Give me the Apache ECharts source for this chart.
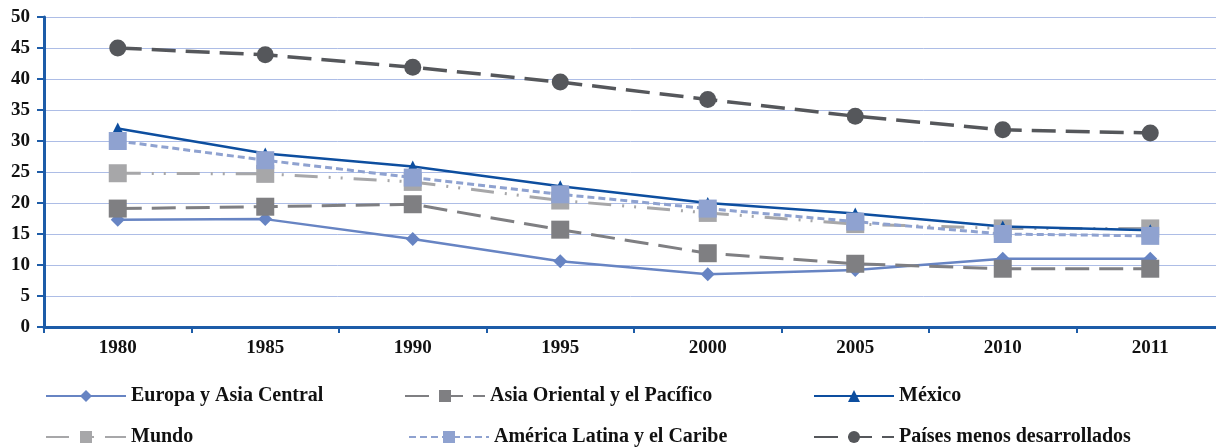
<!DOCTYPE html>
<html>
<head>
<meta charset="utf-8">
<script src="https://cdn.jsdelivr.net/npm/echarts@6/dist/echarts.min.js"></script>
<style>
  html, body { margin: 0; padding: 0; background: #fff; }
  #chart { width: 1216px; height: 447px; }
</style>
</head>
<body>
<div id="chart"></div>
<script>
// datos
const years = ['1980', '1985', '1990', '1995', '2000', '2005', '2010', '2011'];
const europa = [17.3, 17.4, 14.2, 10.6, 8.5, 9.2, 11.0, 11.0];
const asiaOriental = [19.1, 19.4, 19.8, 15.7, 11.9, 10.2, 9.4, 9.4];
const mexico = [32.0, 28.0, 25.9, 22.7, 20.0, 18.3, 16.2, 15.6];
const mundo = [24.8, 24.7, 23.4, 20.4, 18.4, 16.6, 15.9, 15.9];
const americaLatina = [30.0, 26.9, 24.1, 21.4, 19.1, 17.0, 15.0, 14.7];
const paisesMenos = [45.0, 43.9, 41.9, 39.5, 36.7, 34.0, 31.8, 31.3];
const yTicks = [0, 5, 10, 15, 20, 25, 30, 35, 40, 45, 50];

const chart = echarts.init(document.getElementById('chart'));

const font = '"Liberation Serif", "Times New Roman", serif';
const axisBlue = '#1d5ca8';

// un legend por elemento para fijar la posicion como en el original
const legendAt = (name, left, top) => ({
  data: [name],
  left: left,
  top: top,
  padding: 0,
  itemWidth: 80,
  itemHeight: 15,
  textStyle: { fontFamily: font, fontWeight: 'bold', fontSize: 20, color: '#111' }
});

const option = {
  animation: false,
  grid: {
    left: 44,
    top: 17,
    width: 1180,
    height: 310,
    outerBoundsMode: 'none'
  },
  legend: [
    legendAt('Europa y Asia Central', 45, 386),
    legendAt('Asia Oriental y el Pacífico', 404, 386),
    legendAt('México', 813, 386),
    legendAt('Mundo', 45, 427),
    legendAt('América Latina y el Caribe', 408, 427),
    legendAt('Países menos desarrollados', 813, 427)
  ],
  xAxis: {
    type: 'category',
    data: years,
    boundaryGap: true,
    axisLine: { lineStyle: { color: axisBlue, width: 3 } },
    axisTick: { show: true, length: 6, lineStyle: { color: axisBlue, width: 2 } },
    axisLabel: {
      margin: 12,
      fontFamily: font,
      fontWeight: 'bold',
      fontSize: 19,
      color: '#111'
    }
  },
  yAxis: {
    type: 'value',
    min: yTicks[0],
    max: yTicks[yTicks.length - 1],
    interval: 5,
    axisLine: { show: true, lineStyle: { color: axisBlue, width: 3 } },
    axisTick: { show: true, length: 7, lineStyle: { color: axisBlue, width: 2 } },
    axisLabel: {
      margin: 14,
      fontFamily: font,
      fontWeight: 'bold',
      fontSize: 19,
      color: '#111'
    },
    splitLine: { show: true, lineStyle: { color: '#adbde6', width: 1 } }
  },
  series: [
    {
      name: 'Europa y Asia Central',
      type: 'line',
      data: europa,
      symbol: 'diamond',
      symbolSize: 14,
      color: '#6784c3',
      lineStyle: { width: 2.5, color: '#6784c3' }
    },
    {
      name: 'Asia Oriental y el Pacífico',
      type: 'line',
      data: asiaOriental,
      symbol: 'rect',
      symbolSize: 18,
      color: '#7f7f82',
      lineStyle: { width: 3, type: [24, 10], color: '#7f7f82' }
    },
    {
      name: 'Mundo',
      type: 'line',
      data: mundo,
      symbol: 'rect',
      symbolSize: 18,
      color: '#a7a7a9',
      lineStyle: { width: 3, type: [23, 11, 2, 10, 2, 11], color: '#a7a7a9' }
    },
    {
      name: 'México',
      type: 'line',
      data: mexico,
      symbol: 'triangle',
      symbolSize: 12,
      color: '#0d4e9f',
      lineStyle: { width: 2.5, color: '#0d4e9f' }
    },
    {
      name: 'América Latina y el Caribe',
      type: 'line',
      data: americaLatina,
      symbol: 'rect',
      symbolSize: 18,
      color: '#8fa2d0',
      lineStyle: { width: 3, type: [7, 4], color: '#8fa2d0' }
    },
    {
      name: 'Países menos desarrollados',
      type: 'line',
      data: paisesMenos,
      symbol: 'circle',
      symbolSize: 17,
      color: '#55575b',
      lineStyle: { width: 3.5, type: [24, 10], color: '#55575b' }
    }
  ]
};

chart.setOption(option);
</script>
</body>
</html>
